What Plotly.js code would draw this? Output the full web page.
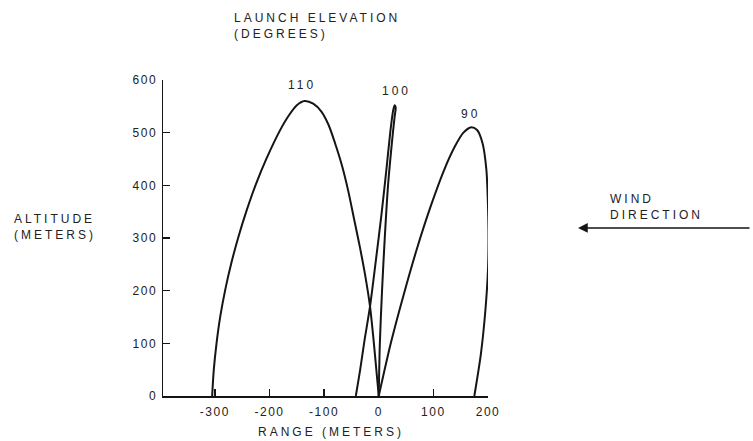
<!DOCTYPE html>
<html>
<head>
<meta charset="utf-8">
<script src="https://cdn.plot.ly/plotly-3.0.1.min.js"></script>
<style>
html,body{margin:0;padding:0;background:#fff;}
#chart{width:753px;height:441px;}
.xtick text,.ytick text{letter-spacing:1.5px;}
.annotation-text{letter-spacing:3px;}
</style>
</head>
<body>
<div id="chart"></div>
<script>
// Trajectory for 110 degree launch elevation (range m, altitude m)
const range110 = [0, -8, -16, -25, -35, -45, -56, -68, -80, -92, -105, -120, -136, -150, -165, -182, -205, -225, -242, -257, -270, -281, -290, -297, -302, -305];
const alt110   = [0, 90, 170, 230, 285, 335, 390, 440, 480, 515, 540, 555, 560, 552, 532, 502, 452, 402, 352, 302, 252, 202, 152, 100, 50, 0];
// Trajectory for 100 degree launch elevation
const range100 = [0, 2, 6, 11, 17, 24, 29, 31, 29, 26, 21, 14, 5, -5, -16, -26, -34, -42];
const alt100   = [0, 100, 200, 300, 400, 480, 530, 548, 552, 540, 500, 430, 345, 260, 170, 106, 50, 0];
// Trajectory for 90 degree launch elevation
const range90 = [0, 22, 45, 70, 95, 120, 140, 155, 168, 180, 190, 197, 200, 201, 200, 195, 187, 175];
const alt90   = [0, 100, 190, 280, 360, 430, 475, 500, 510, 505, 480, 430, 360, 300, 240, 160, 80, 0];

const curveNames = ["110", "100", "90"];
const labelX = [-141, 33, 168];
const labelY = [590, 579, 535];

const xTickVals = [-300, -200, -100, 0, 100, 200];
const xTickText = ["-300", "-200", "-100", "0", "100", "200"];
const yTickVals = [0, 100, 200, 300, 400, 500, 600];
const yTickText = ["0", "100", "200", "300", "400", "500", "600"];

const lineStyle = {color: "#151515", width: 2, shape: "spline", smoothing: 0.8};
const traces = [
  {x: range110, y: alt110, name: curveNames[0]},
  {x: range100, y: alt100, name: curveNames[1]},
  {x: range90, y: alt90, name: curveNames[2]}
].map(t => Object.assign(t, {type: "scatter", mode: "lines", line: lineStyle, hoverinfo: "skip"}));

const font = {family: "Liberation Sans, Arial, sans-serif", size: 12, color: "#222"};

const annotations = curveNames.map((n, i) => ({
  x: labelX[i], y: labelY[i], xref: "x", yref: "y", text: n, showarrow: false,
  font: font, xanchor: "center", yanchor: "middle"
}));
annotations.push(
  {xref: "paper", yref: "paper", x: 0.212, y: 1.225, xanchor: "left", yanchor: "top", align: "left",
   text: "LAUNCH ELEVATION<br>(DEGREES)", showarrow: false, font: font},
  {xref: "paper", yref: "paper", x: -0.4646, y: 0.536, xanchor: "left", yanchor: "middle", align: "left",
   text: "ALTITUDE<br>(METERS)", showarrow: false, font: font},
  {xref: "paper", yref: "paper", x: 1.369, y: 0.598, xanchor: "left", yanchor: "middle", align: "left",
   text: "WIND<br>DIRECTION", showarrow: false, font: font},
  {xref: "paper", yref: "paper", x: 0.517, y: -0.114, xanchor: "center", yanchor: "middle",
   text: "RANGE (METERS)", showarrow: false, font: font},
  {xref: "paper", yref: "paper", x: 1.277, y: 0.532, text: "", showarrow: true,
   axref: "pixel", ayref: "pixel", ax: 173, ay: 0, arrowhead: 2, arrowsize: 1.3, arrowwidth: 1.5,
   arrowcolor: "#151515", standoff: 0, startstandoff: 0}
);

const layout = {
  width: 753, height: 441,
  margin: {l: 163, r: 265, t: 80, b: 45, pad: 0},
  paper_bgcolor: "#fff", plot_bgcolor: "#fff",
  showlegend: false,
  font: font,
  xaxis: {
    range: [-395, 200], tickvals: xTickVals, ticktext: xTickText,
    ticks: "inside", ticklen: 7, tickwidth: 1.3, tickcolor: "#151515",
    showline: true, linecolor: "#151515", linewidth: 1.5,
    showgrid: false, zeroline: false, ticklabelstandoff: 4, tickfont: font
  },
  yaxis: {
    range: [0, 600], tickvals: yTickVals, ticktext: yTickText,
    ticks: "inside", ticklen: 7, tickwidth: 1.3, tickcolor: "#151515",
    showline: true, linecolor: "#151515", linewidth: 1.5,
    showgrid: false, zeroline: false, ticklabelstandoff: 2, tickfont: font
  },
  annotations: annotations
};

Plotly.newPlot("chart", traces, layout, {staticPlot: true, displayModeBar: false});
</script>
</body>
</html>
